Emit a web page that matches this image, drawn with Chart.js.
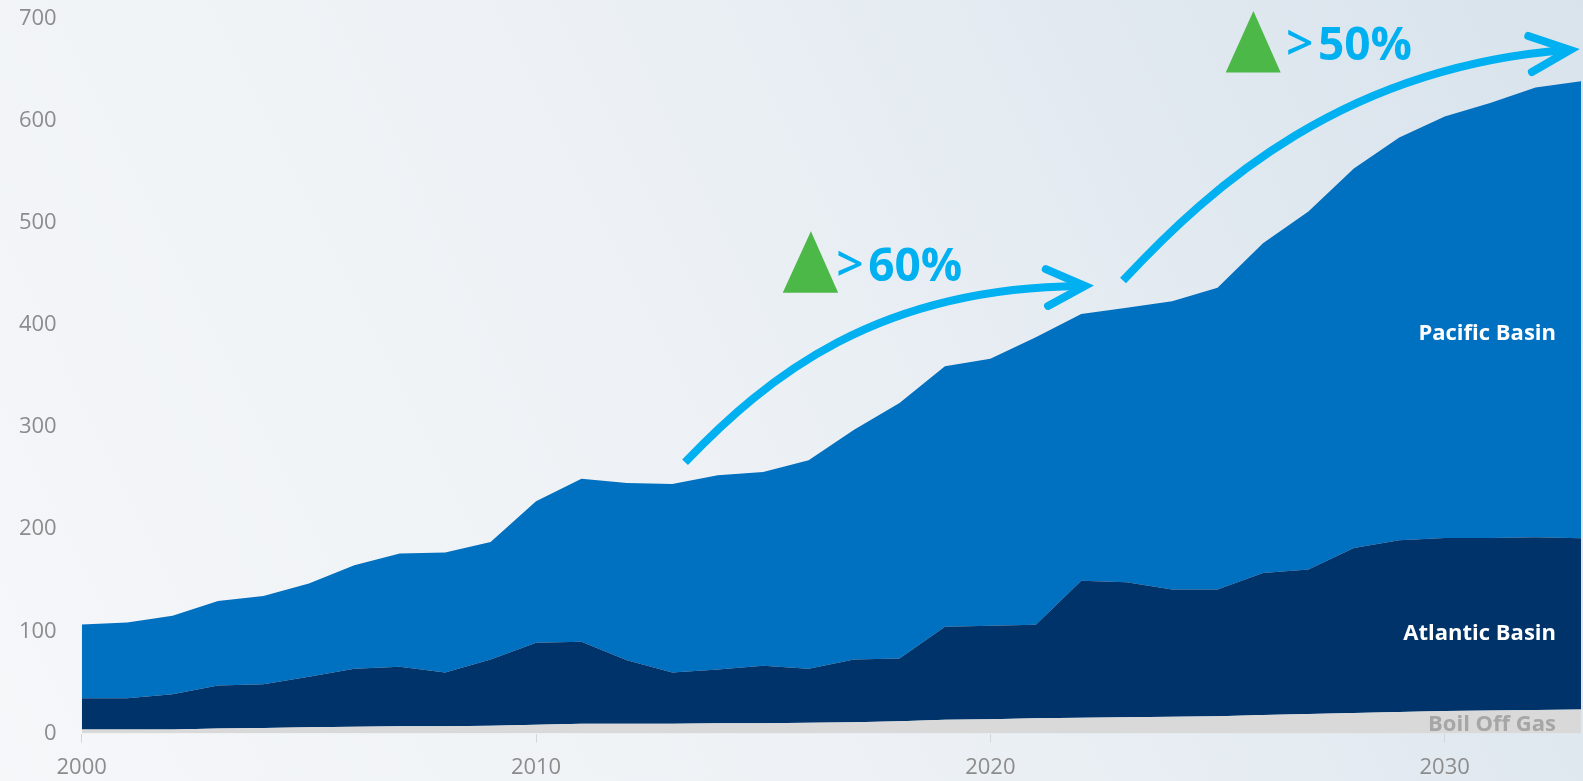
<!DOCTYPE html>
<html>
<head>
<meta charset="utf-8">
<script src="https://cdn.jsdelivr.net/npm/chart.js@4.4.1/dist/chart.umd.min.js"></script>
<style>
  html, body { margin: 0; padding: 0; width: 1583px; height: 781px; overflow: hidden; background: #eef2f6; }
  #wrap { position: relative; width: 1583px; height: 781px; }
</style>
</head>
<body>
<div id="wrap"><canvas id="c"></canvas></div>
<script>
// ---- data ----
const years = [2000, 2001, 2002, 2003, 2004, 2005, 2006, 2007, 2008, 2009,
               2010, 2011, 2012, 2013, 2014, 2015, 2016, 2017, 2018, 2019,
               2020, 2021, 2022, 2023, 2024, 2025, 2026, 2027, 2028, 2029,
               2030, 2031, 2032, 2033];
const boilOffGas = [4, 4, 4, 5, 5.5, 6, 6.5, 7, 7, 7.5,
                    8.5, 9.5, 9.5, 9.5, 10, 10, 10.5, 11, 12, 13.5,
                    14, 15, 15.5, 16, 16.5, 17, 18, 19, 20, 21,
                    22, 22.5, 23, 23.5];
const atlanticBasin = [30.4, 30.4, 34.3, 42.1, 42.6, 49.5, 56.9, 58.3, 52.8, 65,
                       80.3, 80.2, 62.3, 50.3, 52.7, 56.3, 52.8, 61.5, 61.5, 90.9,
                       91.4, 91.5, 133.9, 132.1, 124.5, 124, 139.2, 141.5, 161.6, 168.1,
                       169.4, 168.9, 169, 167.5];
const pacificBasin = [72.3, 74.3, 76.9, 82.7, 86.6, 91.3, 101.3, 110.8, 117.3, 115,
                      138.5, 159.7, 173.4, 184.4, 190, 189.6, 204.1, 224.9, 249.9, 255.1,
                      261.3, 281.4, 261.3, 268.5, 282, 295.2, 322.6, 350.3, 371.5, 394.3,
                      412.6, 425.6, 440.3, 447.5];
const xTickYears = [2000, 2010, 2020, 2030];
const yTickValues = [0, 100, 200, 300, 400, 500, 600, 700];
const seriesLabels = ['Boil Off Gas', 'Atlantic Basin', 'Pacific Basin'];
const growthLabels = ['60%', '50%'];

// ---- annotations (in data units: year, value) ----
const annot = {
  arrows: [
    { p0: [2013.28, 265.4], c1: [2015.1, 350], c2: [2017.5, 436], p3: [2021.97, 438],
      tip: [2022.08, 438], a1: [2021.22, 454.5], a2: [2021.27, 418.5] },
    { p0: [2022.92, 443.3], c1: [2024.9, 538], c2: [2027.8, 652], p3: [2032.67, 669],
      tip: [2032.76, 669], a1: [2031.84, 682.7], a2: [2031.92, 647.5] }
  ],
  triangles: [
    { apex: [2016.05, 491.5], l: [2015.43, 431.3], r: [2016.65, 431.3] },
    { apex: [2025.79, 707.2], l: [2025.18, 646.9], r: [2026.39, 646.9] }
  ],
  texts: [
    { gt: [2016.91, 443.3], num: [2017.31, 443.3], label: growthLabels[0] },
    { gt: [2026.81, 658.7], num: [2027.21, 658.7], label: growthLabels[1] }
  ],
  seriesText: [
    { at: [2032.45, 391.5], label: seriesLabels[2], color: '#ffffff' },
    { at: [2032.45, 98], label: seriesLabels[1], color: '#ffffff' },
    { at: [2032.45, 9], label: seriesLabels[0], color: '#a6a6a6' }
  ]
};

const FONT = "'Open Sans', 'Noto Sans', sans-serif";
const CYAN = '#00b0f0';
const GREEN = '#4cb848';

const bgPlugin = {
  id: 'bg',
  beforeDraw(chart) {
    const ctx = chart.ctx;
    const w = chart.width, h = chart.height;
    const g = ctx.createLinearGradient(0, h, w, 0);
    g.addColorStop(0, '#f5f7f9');
    g.addColorStop(0.45, '#edf1f5');
    g.addColorStop(1, '#d8e3ec');
    ctx.save();
    ctx.fillStyle = g;
    ctx.fillRect(0, 0, w, h);
    ctx.restore();
  }
};

const annotPlugin = {
  id: 'annot',
  afterDatasetsDraw(chart) {
    const ctx = chart.ctx;
    const xs = chart.scales.x, ys = chart.scales.y;
    const P = (p) => [xs.getPixelForValue(p[0]), ys.getPixelForValue(p[1])];
    ctx.save();

    // series labels
    ctx.font = "bold 22px " + FONT;
    ctx.textAlign = 'right';
    ctx.textBaseline = 'middle';
    annot.seriesText.forEach(t => {
      const [x, y] = P(t.at);
      ctx.fillStyle = t.color;
      ctx.fillText(t.label, x, y);
    });

    // arrows
    ctx.strokeStyle = CYAN;
    ctx.lineWidth = 8;
    annot.arrows.forEach(a => {
      const p0 = P(a.p0), c1 = P(a.c1), c2 = P(a.c2), p3 = P(a.p3);
      ctx.lineCap = 'butt';
      ctx.beginPath();
      ctx.moveTo(p0[0], p0[1]);
      ctx.bezierCurveTo(c1[0], c1[1], c2[0], c2[1], p3[0], p3[1]);
      ctx.stroke();
      const t = P(a.tip), a1 = P(a.a1), a2 = P(a.a2);
      ctx.lineCap = 'round';
      ctx.lineJoin = 'miter';
      ctx.beginPath();
      ctx.moveTo(a1[0], a1[1]);
      ctx.lineTo(t[0], t[1]);
      ctx.lineTo(a2[0], a2[1]);
      ctx.stroke();
    });

    // triangles
    ctx.fillStyle = GREEN;
    annot.triangles.forEach(tr => {
      const a = P(tr.apex), l = P(tr.l), r = P(tr.r);
      ctx.beginPath();
      ctx.moveTo(a[0], a[1]);
      ctx.lineTo(r[0], r[1]);
      ctx.lineTo(l[0], l[1]);
      ctx.closePath();
      ctx.fill();
    });

    // growth texts
    ctx.fillStyle = CYAN;
    ctx.textBaseline = 'alphabetic';
    annot.texts.forEach(t => {
      const g = P(t.gt), n = P(t.num);
      ctx.font = "600 48px " + FONT;
      ctx.textAlign = 'center';
      ctx.fillText('>', g[0], g[1]);
      ctx.font = "bold 46px " + FONT;
      ctx.textAlign = 'left';
      ctx.fillText(t.label, n[0], n[1]);
    });

    ctx.restore();
  }
};

const toPoints = (arr) => arr.map((v, i) => ({ x: years[i], y: v }));

new Chart(document.getElementById('c'), {
  type: 'line',
  data: {
    datasets: [
      { label: seriesLabels[0], data: toPoints(boilOffGas), backgroundColor: '#d9d9d9',
        borderWidth: 0, pointRadius: 0, fill: 'origin', tension: 0 },
      { label: seriesLabels[1], data: toPoints(atlanticBasin), backgroundColor: '#00336a',
        borderWidth: 0, pointRadius: 0, fill: '-1', tension: 0 },
      { label: seriesLabels[2], data: toPoints(pacificBasin), backgroundColor: '#0070c0',
        borderWidth: 0, pointRadius: 0, fill: '-1', tension: 0 }
    ]
  },
  options: {
    responsive: true,
    maintainAspectRatio: false,
    animation: false,
    layout: { padding: { left: 0, right: 2, top: 18.3, bottom: 0 } },
    plugins: { legend: { display: false }, tooltip: { enabled: false } },
    elements: { line: { borderWidth: 0 } },
    scales: {
      x: {
        type: 'linear',
        min: years[0],
        max: years[years.length - 1],
        afterBuildTicks: (s) => { s.ticks = xTickYears.map(v => ({ value: v })); },
        afterFit: (s) => { s.height = 47.5; s.paddingLeft = 0; s.paddingRight = 0; },
        grid: { display: true, drawOnChartArea: false, drawTicks: true, tickLength: 9, color: '#d3d7db' },
        border: { display: false },
        ticks: {
          padding: 12.3,
          color: '#8c8c8c',
          font: { family: FONT, size: 22 },
          maxRotation: 0,
          autoSkip: false,
          callback: (v) => String(v)
        }
      },
      y: {
        stacked: true,
        min: 0,
        max: 700,
        afterBuildTicks: (s) => { s.ticks = yTickValues.map(v => ({ value: v })); },
        afterFit: (s) => { s.width = 81.7; s.paddingTop = 0; s.paddingBottom = 0; },
        grid: { display: false, drawTicks: false },
        border: { display: false },
        ticks: {
          padding: 25,
          color: '#8c8c8c',
          font: { family: FONT, size: 22 },
          callback: (v) => String(v)
        }
      }
    }
  },
  plugins: [bgPlugin, annotPlugin]
});
</script>
</body>
</html>
